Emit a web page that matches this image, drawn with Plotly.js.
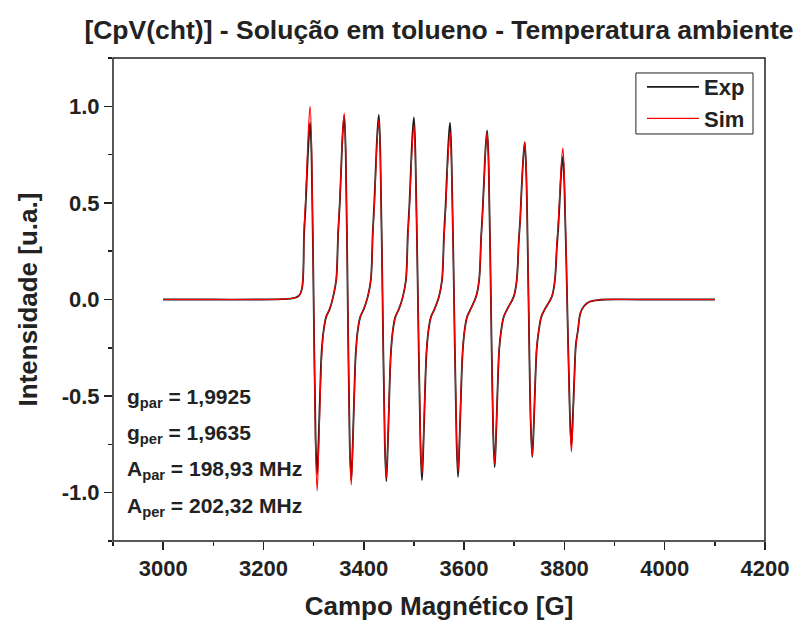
<!DOCTYPE html>
<html>
<head>
<meta charset="utf-8">
<script src="https://cdn.plot.ly/plotly-3.0.1.min.js"></script>
<style>html,body{margin:0;padding:0;background:#fff;}#chart{width:795px;height:626px;}</style>
</head>
<body>
<div id="chart"></div>
<script>
// Magnetic field [G] of the read points (shared by both series)
const field = [
  3000, 3100, 3200, 3240, 3255, 3263,
  3271, 3277, 3281, 3284, 3287, 3290, 3293, 3296, 3300, 3304, 3307, 3310, 3313, 3316, 3320, 3325, 3332,
  3339, 3345, 3349, 3352, 3355, 3358, 3361, 3364, 3368, 3372, 3375, 3378, 3381, 3384, 3388, 3393, 3400,
  3408, 3414, 3418, 3421, 3424, 3427, 3430, 3433, 3437.5, 3442, 3445, 3448, 3451, 3454, 3458, 3463, 3470,
  3478, 3484, 3488, 3491, 3494, 3497, 3500, 3503, 3508, 3513, 3516, 3519, 3522, 3525, 3529, 3534, 3541,
  3550, 3556, 3560, 3563, 3566, 3569, 3572, 3575, 3580, 3585, 3588, 3591, 3594, 3597, 3601, 3606, 3613,
  3624, 3630, 3634, 3637, 3640, 3643, 3646, 3649, 3653.5, 3658, 3661, 3664, 3667, 3670, 3674, 3679, 3686,
  3699, 3705, 3709, 3712, 3715, 3718, 3721, 3724, 3728.5, 3733, 3736, 3739, 3742, 3745, 3749, 3754, 3761,
  3775, 3781, 3785, 3788, 3791, 3794, 3797, 3800, 3805.5, 3811, 3814, 3817, 3820, 3823, 3827, 3832, 3839,
  3849, 3864, 3884, 3950, 4100
];
const expIntensity = [
  0, 0, 0, 0.002, 0.005, 0.009,
  0.02, 0.06, 0.34, 0.48, 0.66, 0.82, 0.915, 0.73, 0, -0.72, -0.905, -0.72, -0.47, -0.27, -0.16, -0.09, -0.05,
  0.015, 0.10, 0.35, 0.49, 0.68, 0.86, 0.95, 0.76, 0, -0.75, -0.935, -0.75, -0.49, -0.28, -0.16, -0.09, -0.05,
  0.015, 0.10, 0.35, 0.50, 0.69, 0.86, 0.956, 0.76, 0, -0.75, -0.94, -0.75, -0.49, -0.28, -0.16, -0.09, -0.05,
  0.015, 0.10, 0.35, 0.49, 0.68, 0.85, 0.942, 0.75, 0, -0.75, -0.935, -0.75, -0.49, -0.28, -0.16, -0.09, -0.05,
  0.015, 0.10, 0.34, 0.48, 0.66, 0.82, 0.916, 0.73, 0, -0.73, -0.918, -0.73, -0.48, -0.28, -0.16, -0.09, -0.05,
  0.015, 0.10, 0.32, 0.46, 0.63, 0.79, 0.875, 0.70, 0, -0.69, -0.867, -0.69, -0.45, -0.26, -0.16, -0.09, -0.05,
  0.015, 0.10, 0.30, 0.42, 0.59, 0.73, 0.815, 0.65, 0, -0.65, -0.815, -0.65, -0.42, -0.25, -0.16, -0.09, -0.05,
  0.015, 0.10, 0.27, 0.38, 0.53, 0.67, 0.74, 0.59, 0, -0.60, -0.755, -0.60, -0.39, -0.23, -0.16, -0.07, -0.035,
  -0.013, -0.004, 0, 0, 0
];
// Simulated spectrum
const simIntensity = [
  0, 0, 0, 0.002, 0.005, 0.009,
  0.02, 0.06, 0.37, 0.52, 0.72, 0.90, 1.00, 0.80, 0, -0.79, -0.99, -0.79, -0.51, -0.30, -0.16, -0.09, -0.05,
  0.015, 0.10, 0.36, 0.50, 0.69, 0.87, 0.965, 0.77, 0, -0.77, -0.96, -0.77, -0.50, -0.29, -0.16, -0.09, -0.05,
  0.015, 0.10, 0.34, 0.48, 0.67, 0.84, 0.93, 0.74, 0, -0.74, -0.925, -0.74, -0.48, -0.28, -0.16, -0.09, -0.05,
  0.015, 0.10, 0.33, 0.47, 0.65, 0.81, 0.904, 0.72, 0, -0.72, -0.90, -0.72, -0.47, -0.27, -0.16, -0.09, -0.05,
  0.015, 0.10, 0.32, 0.45, 0.63, 0.78, 0.87, 0.70, 0, -0.71, -0.89, -0.71, -0.46, -0.27, -0.16, -0.09, -0.05,
  0.015, 0.10, 0.32, 0.45, 0.62, 0.78, 0.865, 0.69, 0, -0.68, -0.85, -0.68, -0.44, -0.26, -0.16, -0.09, -0.05,
  0.015, 0.10, 0.30, 0.42, 0.59, 0.73, 0.815, 0.65, 0, -0.65, -0.81, -0.65, -0.42, -0.24, -0.16, -0.09, -0.05,
  0.015, 0.10, 0.29, 0.41, 0.56, 0.71, 0.784, 0.63, 0, -0.63, -0.79, -0.63, -0.41, -0.24, -0.16, -0.07, -0.035,
  -0.013, -0.004, 0, 0, 0
];
const seriesNames = ['Exp', 'Sim'];
const xTickValues = [3000, 3200, 3400, 3600, 3800, 4000, 4200];
const yTickValues = [-1.0, -0.5, 0.0, 0.5, 1.0];
const yTickLabels = ['-1.0', '-0.5', '0.0', '0.5', '1.0'];
const paramLabels = [
  'g<sub>par</sub> = 1,9925',
  'g<sub>per</sub> = 1,9635',
  'A<sub>par</sub> = 198,93 MHz',
  'A<sub>per</sub> = 202,32 MHz'
];
const paramYPos = [-0.51, -0.695, -0.885, -1.075];

const FONT = 'Liberation Sans, Arial, Helvetica, sans-serif';

const traces = [
  {x: field, y: expIntensity, name: seriesNames[0], type: 'scatter', mode: 'lines',
   line: {color: '#1a1a1a', width: 1.8, shape: 'spline', smoothing: 1}},
  {x: field, y: simIntensity, name: seriesNames[1], type: 'scatter', mode: 'lines',
   line: {color: '#ff0000', width: 1.1, shape: 'spline', smoothing: 1}}
];

const axisCommon = {
  showgrid: false, zeroline: false, showline: false,
  ticks: 'outside', ticklen: 8, tickwidth: 1.5, tickcolor: '#222',
  tickfont: {family: FONT, size: 22, color: '#222', weight: 'bold'}
};

const layout = {
  width: 795, height: 626,
  paper_bgcolor: '#fff', plot_bgcolor: '#fff',
  margin: {l: 113, r: 30, t: 58, b: 85},
  title: {text: '[CpV(cht)] - Solução em tolueno - Temperatura ambiente',
          font: {family: FONT, size: 26.5, color: '#222', weight: 'bold'},
          x: 0.5, xref: 'paper', xanchor: 'center', y: 1 - 30/626, yanchor: 'middle'},
  xaxis: Object.assign({}, axisCommon, {
    range: [2900, 4200], tickvals: xTickValues,
    minor: {dtick: 100, tick0: 2900, ticks: 'outside', ticklen: 4, tickwidth: 1.5, tickcolor: '#222'},
    title: {text: 'Campo Magnético [G]', font: {family: FONT, size: 26, color: '#222', weight: 'bold'}, standoff: 16}
  }),
  yaxis: Object.assign({}, axisCommon, {
    range: [-1.25, 1.25], tickvals: yTickValues, ticktext: yTickLabels,
    minor: {dtick: 0.25, tick0: 0, ticks: 'outside', ticklen: 4, tickwidth: 1.5, tickcolor: '#222'},
    title: {text: 'Intensidade [u.a.]', font: {family: FONT, size: 26, color: '#222', weight: 'bold'}, standoff: 16}
  }),
  shapes: [
    {type: 'rect', xref: 'paper', yref: 'paper', x0: 0, x1: 1, y0: 0, y1: 1,
     line: {color: '#222', width: 1.5}, fillcolor: 'rgba(0,0,0,0)', layer: 'above'},
    {type: 'rect', xref: 'paper', yref: 'paper', x0: 0.802, x1: 0.9816, y0: 0.8427, y1: 0.969,
     line: {color: '#222', width: 1}, fillcolor: '#fff', layer: 'above'}
  ],
  showlegend: true,
  legend: {x: 0.977, xanchor: 'right', y: 0.9834, yanchor: 'top',
           bgcolor: 'rgba(0,0,0,0)', borderwidth: 0,
           font: {family: FONT, size: 22, color: '#222', weight: 'bold'},
           itemwidth: 52, tracegroupgap: 0},
  annotations: paramLabels.map((t, i) => ({
    text: t, xref: 'paper', yref: 'y', x: 0.018, y: paramYPos[i],
    xanchor: 'left', yanchor: 'middle', showarrow: false,
    font: {family: FONT, size: 21, color: '#222', weight: 'bold'}
  }))
};

Plotly.newPlot('chart', traces, layout, {displayModeBar: false, staticPlot: true});
</script>
</body>
</html>
